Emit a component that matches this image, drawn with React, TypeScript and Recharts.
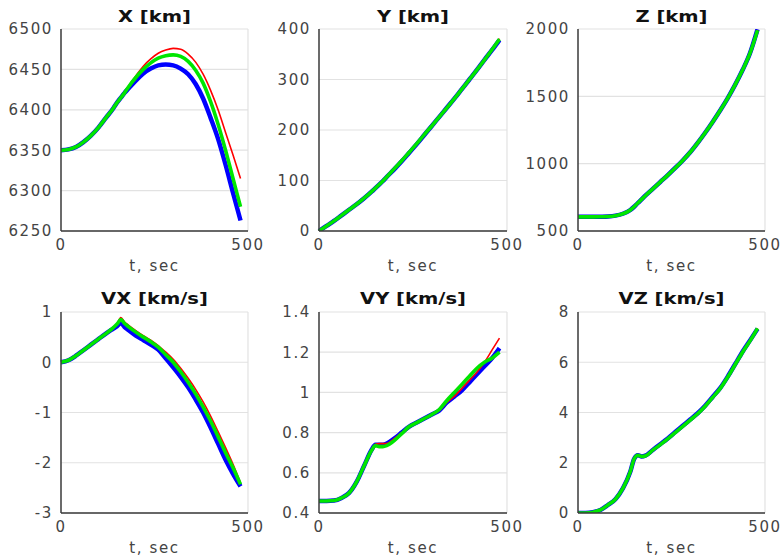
import React from 'react';
import { LineChart, Line, XAxis, YAxis, CartesianGrid, ReferenceLine } from 'recharts';

// sample times (s)
const time = [0, 20, 40, 60, 80, 100, 120, 140, 150, 160, 170, 180, 200, 220, 240, 260, 280, 300, 320, 340, 360, 380, 400, 420, 440, 460, 480];

const xRed = [6350, 6351, 6354, 6360, 6368, 6378, 6390, 6402, 6409, 6415, 6422, 6429, 6442, 6454, 6463, 6470, 6474, 6476, 6475, 6469, 6459, 6444, 6424, 6400, 6372, 6344, 6315];
const xBlue = [6350, 6351, 6354, 6360, 6368, 6378, 6390, 6402, 6409, 6415, 6421, 6426, 6436, 6445, 6451, 6455, 6456, 6455, 6451, 6444, 6432, 6414, 6390, 6364, 6332, 6297, 6263];
const xGreen = [6350, 6351, 6354, 6360, 6368, 6378, 6390, 6402, 6409, 6415, 6421, 6428, 6440, 6450, 6458, 6464, 6467, 6468, 6466, 6460, 6449, 6433, 6410, 6382, 6350, 6315, 6280];

const yRed = [0, 10, 20, 31, 42, 53, 65, 78, 85, 92, 99, 107, 123, 139, 156, 173, 191, 209, 227, 245, 263, 282, 301, 320, 340, 360, 381];
const yBlue = [0, 10, 20, 31, 42, 53, 65, 78, 85, 92, 99, 107, 122, 138, 155, 172, 190, 208, 226, 244, 262, 281, 300, 319, 339, 358, 378];
const yGreen = [0, 10, 20, 31, 42, 53, 65, 78, 85, 92, 99, 107, 123, 139, 156, 173, 191, 208, 226, 244, 262, 281, 300, 319, 339, 359, 380];

const zRed = [605, 605, 605, 606, 608, 614, 628, 656, 680, 708, 735, 762, 813, 864, 915, 968, 1024, 1085, 1155, 1230, 1310, 1395, 1485, 1585, 1695, 1820, 1992];
const zBlue = [605, 605, 605, 606, 608, 614, 628, 656, 680, 708, 735, 762, 813, 864, 915, 968, 1024, 1085, 1155, 1230, 1310, 1395, 1485, 1585, 1695, 1822, 1998];
const zGreen = [605, 605, 605, 606, 608, 614, 628, 656, 680, 708, 735, 762, 813, 864, 915, 968, 1024, 1085, 1155, 1230, 1310, 1395, 1485, 1585, 1695, 1820, 1990];

const vxRed = [0, 0.04, 0.13, 0.24, 0.35, 0.46, 0.57, 0.69, 0.77, 0.89, 0.8, 0.74, 0.63, 0.53, 0.44, 0.33, 0.2, 0.06, -0.12, -0.32, -0.54, -0.79, -1.07, -1.38, -1.7, -2.03, -2.4];
const vxBlue = [0, 0.04, 0.13, 0.24, 0.35, 0.46, 0.57, 0.67, 0.72, 0.78, 0.7, 0.64, 0.53, 0.44, 0.35, 0.25, 0.08, -0.1, -0.29, -0.5, -0.74, -1.0, -1.3, -1.62, -1.94, -2.22, -2.47];
const vxGreen = [0, 0.04, 0.13, 0.24, 0.35, 0.46, 0.57, 0.69, 0.76, 0.85, 0.77, 0.71, 0.6, 0.5, 0.41, 0.3, 0.15, 0.0, -0.19, -0.4, -0.63, -0.89, -1.17, -1.48, -1.8, -2.1, -2.43];

const vyRed = [0.46, 0.46, 0.462, 0.475, 0.5, 0.555, 0.635, 0.715, 0.742, 0.745, 0.745, 0.746, 0.77, 0.8, 0.83, 0.85, 0.87, 0.89, 0.91, 0.95, 0.98, 1.02, 1.06, 1.1, 1.15, 1.21, 1.27];
const vyBlue = [0.46, 0.46, 0.462, 0.475, 0.5, 0.555, 0.635, 0.715, 0.74, 0.74, 0.74, 0.745, 0.77, 0.8, 0.83, 0.85, 0.87, 0.89, 0.91, 0.95, 0.98, 1.01, 1.05, 1.09, 1.13, 1.17, 1.22];
const vyGreen = [0.46, 0.46, 0.462, 0.475, 0.5, 0.555, 0.635, 0.712, 0.735, 0.73, 0.73, 0.735, 0.76, 0.795, 0.83, 0.85, 0.87, 0.89, 0.915, 0.96, 1.0, 1.04, 1.08, 1.12, 1.15, 1.17, 1.2];

const vzRed = [0, 0, 0.03, 0.12, 0.32, 0.55, 0.98, 1.65, 2.15, 2.3, 2.25, 2.27, 2.5, 2.72, 2.95, 3.2, 3.45, 3.7, 3.95, 4.25, 4.6, 4.95, 5.4, 5.9, 6.4, 6.85, 7.35];
const vzBlue = [0, 0, 0.03, 0.12, 0.32, 0.55, 0.98, 1.65, 2.15, 2.3, 2.25, 2.28, 2.51, 2.74, 2.97, 3.22, 3.47, 3.72, 3.97, 4.27, 4.62, 4.97, 5.42, 5.92, 6.42, 6.87, 7.33];
const vzGreen = [0, 0, 0.03, 0.12, 0.32, 0.55, 0.98, 1.65, 2.15, 2.3, 2.25, 2.27, 2.5, 2.72, 2.95, 3.2, 3.45, 3.7, 3.95, 4.25, 4.6, 4.95, 5.4, 5.9, 6.4, 6.85, 7.35];

const xTicks = [0, 500];

type PanelProps = {
  title: string;
  red: number[];
  blue: number[];
  green: number[];
  domain: [number, number];
  ticks: number[];
  left: number;
  top: number;
  plotWidth: number;
  plotHeight: number;
  height: number;
  yAxisWidth: number;
  marginTop: number;
  labelOffset: number;
  titleTop: number;
};

const PAD = 24; // room on the right so the "500" tick isn't clipped
const tickStyle = { fill: '#444', fontSize: 15, letterSpacing: 1.6 };
const axisStyle = { stroke: '#3a3a3a', strokeWidth: 1.5 };
const gridColor = '#e2e2e2';

function Panel(p: PanelProps) {
  const data = time.map((t, i) => ({ t, red: p.red[i], blue: p.blue[i], green: p.green[i] }));
  const width = p.yAxisWidth + p.plotWidth + PAD;
  return (
    <>
      <div
        style={{
          position: 'absolute',
          left: p.left + p.yAxisWidth,
          top: p.titleTop,
          width: p.plotWidth,
          textAlign: 'center',
          fontWeight: 'bold',
          fontSize: 15,
          lineHeight: '15px',
          color: '#111',
          transform: 'scaleX(1.3)',
        }}
      >
        {p.title}
      </div>
      <div style={{ position: 'absolute', left: p.left, top: p.top }}>
        <LineChart width={width} height={p.height} data={data} margin={{ top: p.marginTop, right: PAD, left: 0, bottom: 0 }}>
          <CartesianGrid vertical={false} stroke={gridColor} strokeWidth={1.2} />
          <ReferenceLine x={500} stroke={gridColor} strokeWidth={1.2} />
          <XAxis
            dataKey="t"
            type="number"
            domain={[0, 500]}
            ticks={xTicks}
            tickLine={false}
            axisLine={axisStyle}
            tick={tickStyle}
            height={p.height - p.marginTop - p.plotHeight}
            label={{ value: 't, sec', position: 'insideBottom', offset: p.labelOffset, fill: '#444', fontSize: 15, letterSpacing: 1.6 }}
          />
          <YAxis
            type="number"
            domain={p.domain}
            ticks={p.ticks}
            allowDataOverflow
            interval={0}
            width={p.yAxisWidth}
            tickLine={false}
            axisLine={axisStyle}
            tick={tickStyle}
            tickFormatter={(v: number) => String(Number(v.toFixed(2)))}
          />
          <Line type="monotone" dataKey="blue" stroke="#0000ff" strokeWidth={4.5} dot={false} isAnimationActive={false} />
          <Line type="monotone" dataKey="red" stroke="#ff0000" strokeWidth={1.6} dot={false} isAnimationActive={false} />
          <Line type="monotone" dataKey="green" stroke="#00e600" strokeWidth={3.6} dot={false} isAnimationActive={false} />
        </LineChart>
      </div>
    </>
  );
}

export default function App() {
  const row1 = { top: 0, height: 280, marginTop: 29, plotHeight: 202, labelOffset: 9, titleTop: 10 };
  const row2 = { top: 280, height: 277, marginTop: 32, plotHeight: 201, labelOffset: 4, titleTop: 292 };
  const col1 = { left: 0, yAxisWidth: 61, plotWidth: 187 };
  const col2 = { left: 260, yAxisWidth: 59, plotWidth: 188 };
  const col3 = { left: 520, yAxisWidth: 58, plotWidth: 187 };
  return (
    <div
      style={{
        position: 'absolute',
        left: 0,
        top: 0,
        width: 783,
        height: 557,
        background: '#fff',
        fontFamily: '"DejaVu Sans", sans-serif',
        overflow: 'hidden',
      }}
    >
      <Panel title="X [km]" red={xRed} blue={xBlue} green={xGreen} domain={[6250, 6500]} ticks={[6250, 6300, 6350, 6400, 6450, 6500]} {...row1} {...col1} />
      <Panel title="Y [km]" red={yRed} blue={yBlue} green={yGreen} domain={[0, 400]} ticks={[0, 100, 200, 300, 400]} {...row1} {...col2} />
      <Panel title="Z [km]" red={zRed} blue={zBlue} green={zGreen} domain={[500, 2000]} ticks={[500, 1000, 1500, 2000]} {...row1} {...col3} />
      <Panel title="VX [km/s]" red={vxRed} blue={vxBlue} green={vxGreen} domain={[-3, 1]} ticks={[-3, -2, -1, 0, 1]} {...row2} {...col1} />
      <Panel title="VY [km/s]" red={vyRed} blue={vyBlue} green={vyGreen} domain={[0.4, 1.4]} ticks={[0.4, 0.6, 0.8, 1, 1.2, 1.4]} {...row2} {...col2} />
      <Panel title="VZ [km/s]" red={vzRed} blue={vzBlue} green={vzGreen} domain={[0, 8]} ticks={[0, 2, 4, 6, 8]} {...row2} {...col3} />
    </div>
  );
}
